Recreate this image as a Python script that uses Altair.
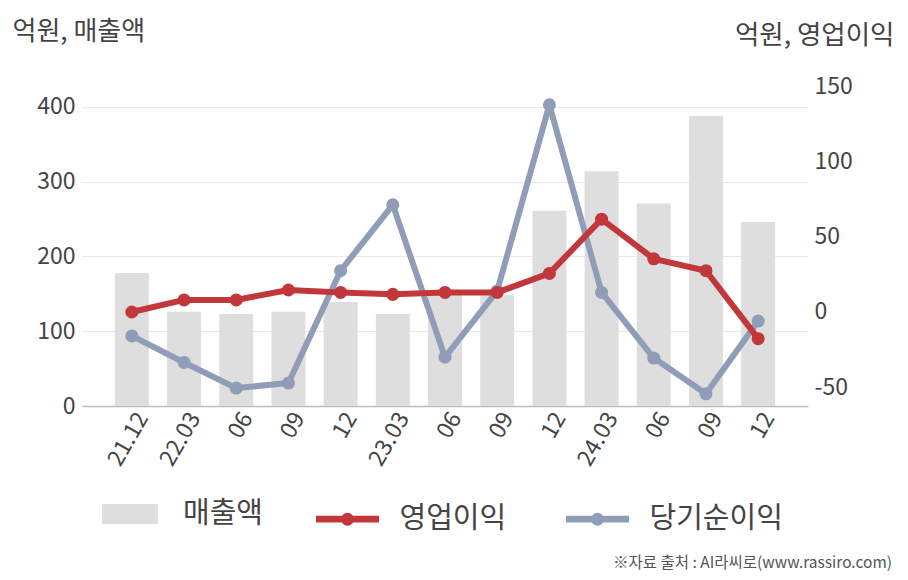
import altair as alt
import pandas as pd

quarters = ["21.12", "22.03", "06", "09", "12", "23.03", "06 ", "09 ", "12 ", "24.03", "06  ", "09  ", "12  "]
sales = [178, 126, 123, 126, 139, 123, 150, 148, 261, 314, 271, 388, 246]
op_profit = [0, 8, 8, 14.6, 13, 11.7, 13, 13, 25.6, 61.6, 35.3, 27.4, -17.7]
net_profit = [-15.9, -33.5, -50.5, -47.2, 27.4, 71.1, -30, 14, 137.5, 13, -30.6, -54.3, -6]

FONT = "Noto Sans CJK KR"
RED = "#C1373A"
BLUE = "#909DB8"
BAR = "#DEDEDE"
TXT = "#444444"

bars_df = pd.DataFrame({"q": quarters, "v": sales, "s": ["매출액"] * len(quarters)})
op_df = pd.DataFrame({"q": quarters, "v": op_profit, "s": ["영업이익"] * len(quarters)})
net_df = pd.DataFrame({"q": quarters, "v": net_profit, "s": ["당기순이익"] * len(quarters)})

xenc = alt.X("q:N", sort=quarters, title=None,
             scale=alt.Scale(paddingInner=0.35, paddingOuter=0.63),
             axis=alt.Axis(labelAngle=-60, labelFontSize=23, labelColor=TXT, labelFont=FONT,
                           ticks=False, domainColor="#bbbbbb", domainWidth=1.5, labelPadding=8,
                           labelOffset=11, grid=False, labelExpr="trim(datum.label)"))

bars = alt.Chart(bars_df).mark_bar(color=BAR).encode(
    x=xenc,
    y=alt.Y("v:Q", scale=alt.Scale(domain=[0, 428], nice=False),
            axis=alt.Axis(values=[0, 100, 200, 300, 400], title="억원, 매출액", titleAngle=0,
                          titleAlign="left", titleBaseline="alphabetic", titleX=-70, titleY=-47,
                          titleFontSize=26, titleFont=FONT, titleColor=TXT, titleFontWeight="normal",
                          labelFontSize=23, labelFont=FONT, labelColor=TXT, labelPadding=7,
                          ticks=False, domain=False, grid=True, gridColor="#e8e8e8", labelFlush=False,
                          orient="left")),
    color=alt.Color("s:N", scale=alt.Scale(domain=["매출액"], range=[BAR]),
                    legend=alt.Legend(title=None, orient="none", legendX=18, legendY=398,
                                      symbolType="M-0.93,-0.33H0.93V0.33H-0.93Z", symbolSize=3600,
                                      symbolStrokeWidth=0, labelFontSize=29, labelFont=FONT,
                                      labelColor=TXT, labelOffset=23, padding=0)),
)

line_y = alt.Y("v:Q", scale=alt.Scale(domain=[-62.4, 150], nice=False),
               axis=alt.Axis(values=[-50, 0, 50, 100, 150], title="억원, 영업이익", titleAngle=0,
                             titleAlign="right", titleBaseline="alphabetic", titleX=86, titleY=-43,
                             titleFontSize=26.5, titleFont=FONT, titleColor=TXT, titleFontWeight="normal",
                             labelFontSize=23, labelFont=FONT, labelColor=TXT, labelPadding=6,
                             labelExpr="'' + datum.value",
                             ticks=False, domain=False, grid=False, labelFlush=False, orient="right"))

line_color = alt.Color("s:N", scale=alt.Scale(domain=["영업이익", "당기순이익"], range=[RED, BLUE]),
                       legend=alt.Legend(title=None, orient="none", direction="horizontal",
                                         legendX=230.5, legendY=398,
                                         symbolType="M-1,0H1M0.1,0A0.1,0.1 0 1,1 -0.1,0A0.1,0.1 0 1,1 0.1,0",
                                         symbolSize=3969, symbolStrokeWidth=6.7,
                                         labelFontSize=29, labelFont=FONT, labelColor=TXT,
                                         labelOffset=17, columnPadding=46, padding=0))

pt = alt.OverlayMarkDef(size=170, filled=True, opacity=1)
net_line = alt.Chart(net_df).mark_line(strokeWidth=6, strokeJoin="round", point=pt).encode(
    x=alt.X("q:N", sort=quarters), y=line_y, color=line_color)
op_line = alt.Chart(op_df).mark_line(strokeWidth=6, strokeJoin="round", point=pt).encode(
    x=alt.X("q:N", sort=quarters), y=line_y, color=line_color)

lines = alt.layer(net_line, op_line)

chart = alt.layer(bars, lines).resolve_scale(y="independent", color="independent").properties(
    width=726, height=320,
    autosize=alt.AutoSizeParams(type="none"),
    padding={"left": 74, "top": 78, "right": 92, "bottom": 166},
    title=alt.Title("※자료 출처 : AI라씨로(www.rassiro.com)", orient="bottom", anchor="end",
                    fontSize=15.5, font=FONT, color="#555", fontWeight="normal", offset=0, dx=-2, dy=20),
).configure_view(stroke=None)

chart.save("out.html", embed_options={"renderer": "svg", "actions": False})
